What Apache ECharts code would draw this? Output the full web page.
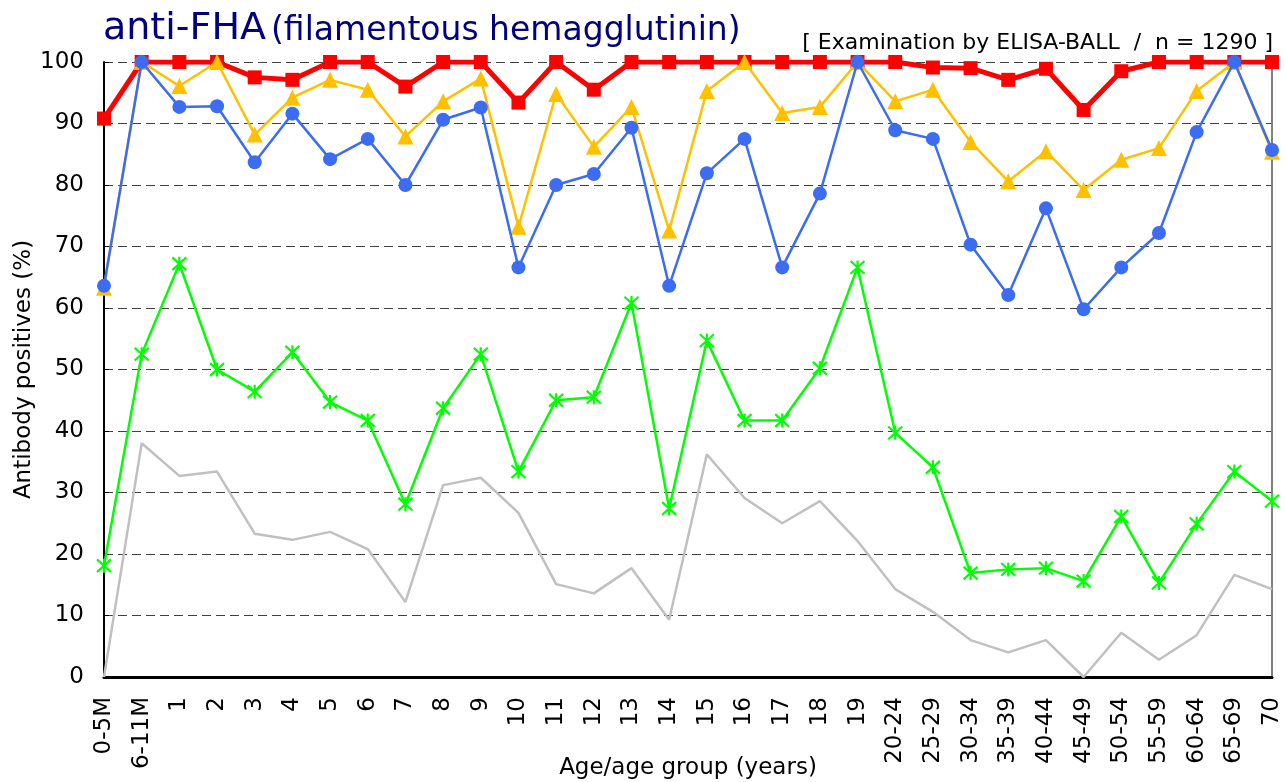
<!DOCTYPE html>
<html>
<head>
<meta charset="utf-8">
<script src="https://cdn.jsdelivr.net/npm/echarts@6/dist/echarts.min.js"></script>
<style>
html,body{margin:0;padding:0;background:#fff;}
#chart{width:1285px;height:782px;}
</style>
</head>
<body>
<div id="chart"></div>
<script>
var categories = ['0-5M','6-11M','1','2','3','4','5','6','7','8','9','10','11','12','13','14','15','16','17','18','19','20-24','25-29','30-34','35-39','40-44','45-49','50-54','55-59','60-64','65-69','70'];
var yTicks = [0,10,20,30,40,50,60,70,80,90,100];

var redValues = [90.8,100,100,100,97.5,97.1,100,100,96.0,100,100,93.4,100,95.5,100,100,100,100,100,100,100,100,99.1,99.0,97.1,98.9,92.2,98.5,100,100,100,100];
var yellowValues = [63.3,100,96.1,100,88.2,94.2,97.1,95.5,87.9,93.6,97.3,73.2,94.8,86.2,92.7,72.6,95.3,100,91.7,92.7,100,93.6,95.5,87.0,80.6,85.5,79.2,84.1,86.0,95.3,100,85.4];
var blueValues = [63.6,100,92.7,92.8,83.7,91.6,84.2,87.5,80.0,90.6,92.6,66.6,80.0,81.8,89.3,63.6,81.9,87.5,66.6,78.6,100,88.9,87.5,70.3,62.1,76.2,59.8,66.6,72.2,88.6,100,85.7];
var greenValues = [18.1,52.5,67.2,50.0,46.4,52.8,44.7,41.7,28.1,43.7,52.5,33.4,45.0,45.5,60.8,27.4,54.7,41.7,41.7,50.2,66.6,39.7,34.1,16.9,17.5,17.7,15.6,26.1,15.3,24.9,33.4,28.6];
var grayValues = [0,38.0,32.7,33.4,23.3,22.3,23.6,20.8,12.2,31.2,32.4,26.7,15.1,13.6,17.7,9.3,36.2,29.1,25.0,28.6,22.1,14.3,10.6,6.0,4.0,6.0,0,7.2,2.8,6.8,16.6,14.3];

var FONT = '"DejaVu Sans", "Liberation Sans", Arial, sans-serif';
var chart = echarts.init(document.getElementById('chart'), null, {renderer:'canvas'});

var option = {
  animation: false,
  backgroundColor: '#ffffff',
  title: [{
    text: '{a|anti-FHA} {b|(filamentous hemagglutinin)}',
    left: 98,
    top: 5,
    textStyle: {
      fontWeight: 'normal',
      rich: {
        a: {fontFamily: FONT, fontSize: 38, fontWeight: 'normal', color: '#000080', verticalAlign: 'bottom'},
        b: {fontFamily: FONT, fontSize: 33, fontWeight: 'normal', color: '#000080', verticalAlign: 'bottom'}
      }
    }
  }],
  graphic: [{
    type: 'text',
    right: 12,
    top: 32,
    z: 100,
    style: {
      text: '[ Examination by ELISA-BALL  /  n = 1290 ]',
      font: '22px ' + FONT,
      fill: '#000'
    }
  }],
  grid: {left: 104, right: 13, top: 62, bottom: 105, containLabel: false, outerBoundsMode: 'none'},
  xAxis: [{
    type: 'category',
    data: categories,
    boundaryGap: false,
    name: 'Age/age group (years)',
    nameLocation: 'middle',
    nameGap: 80,
    nameMoveOverlap: false,
    nameTextStyle: {fontFamily: FONT, fontSize: 23, color: '#000'},
    axisLine: {show: true, lineStyle: {color: '#000', width: 3}},
    axisTick: {show: false},
    axisLabel: {interval: 0, rotate: 90, margin: 20, fontFamily: FONT, fontSize: 23, color: '#000'},
    splitLine: {show: false}
  }, {
    type: 'category',
    data: categories,
    boundaryGap: false,
    position: 'top',
    axisLine: {show: true, lineStyle: {color: '#000', width: 1}},
    axisTick: {show: false},
    axisLabel: {show: false},
    splitLine: {show: false}
  }],
  yAxis: [{
    type: 'value',
    min: 0,
    max: 100,
    interval: 10,
    name: 'Antibody positives (%)',
    nameLocation: 'middle',
    nameGap: 68,
    nameMoveOverlap: false,
    nameTextStyle: {fontFamily: FONT, fontSize: 23, color: '#000'},
    axisLine: {show: true, lineStyle: {color: '#000', width: 2}},
    axisTick: {show: true, inside: true, length: 5, lineStyle: {color: '#000', width: 1}},
    axisLabel: {margin: 20, fontFamily: FONT, fontSize: 23, color: '#000',
      formatter: function (v) { return yTicks.indexOf(v) >= 0 ? String(v) : ''; }},
    splitLine: {show: true, lineStyle: {color: '#404040', width: 1, type: [9, 5]}}
  }, {
    type: 'value',
    min: 0,
    max: 100,
    interval: 10,
    position: 'right',
    axisLine: {show: true, lineStyle: {color: '#808080', width: 2}},
    axisTick: {show: false},
    axisLabel: {show: false},
    splitLine: {show: false}
  }],
  series: [{
    name: 'gray',
    type: 'line',
    data: grayValues,
    symbol: 'none',
    lineStyle: {color: '#c0c0c0', width: 2.5},
    itemStyle: {color: '#c0c0c0'},
    z: 2
  }, {
    name: 'green',
    type: 'line',
    data: greenValues,
    symbol: 'path://M0,0L10,10M10,0L0,10M5,-0.5L5,10.5',
    symbolSize: 14,
    lineStyle: {color: '#00ff00', width: 2.5},
    itemStyle: {color: '#00ff00', borderColor: '#00ff00', borderWidth: 2.2},
    z: 3
  }, {
    name: 'red',
    type: 'line',
    data: redValues,
    symbol: 'rect',
    symbolSize: 14,
    lineStyle: {color: '#ff0000', width: 5},
    itemStyle: {color: '#ff0000'},
    z: 4
  }, {
    name: 'yellow',
    type: 'line',
    data: yellowValues,
    symbol: 'triangle',
    symbolSize: 16,
    lineStyle: {color: '#ffc000', width: 2.5},
    itemStyle: {color: '#ffc000'},
    z: 5
  }, {
    name: 'blue',
    type: 'line',
    data: blueValues,
    symbol: 'circle',
    symbolSize: 14,
    lineStyle: {color: '#3b6cf2', width: 2.5},
    itemStyle: {color: '#3b6cf2'},
    z: 6
  }]
};
chart.setOption(option);
</script>
</body>
</html>
